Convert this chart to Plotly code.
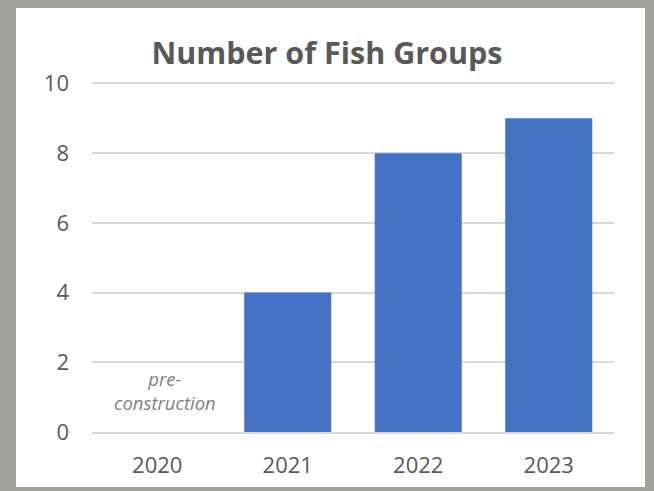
import plotly.graph_objects as go

years = ["2020", "2021", "2022", "2023"]
fish_groups = [0, 4, 8, 9]
y_ticks = [0, 2, 4, 6, 8, 10]
note_text = "pre-<br>construction"

text_color = "#595959"
font_family = "Open Sans"

fig = go.Figure()
fig.add_trace(go.Bar(
    x=years, y=fish_groups,
    marker=dict(color="#4472c4", line=dict(width=0)),
    hoverinfo="x+y",
))

# white card behind the chart (plot area spans y 80..432 px, x 92..614 px)
fig.add_shape(type="rect", xref="paper", yref="paper",
              x0=-0.1456, x1=1.0594, y0=-55 / 352, y1=424 / 352,
              fillcolor="white", line=dict(width=0), layer="below")

fig.add_annotation(x=0, y=1.2, xref="x", yref="y", xshift=8,
                   text="<i>" + note_text.replace("<br>", "</i><br><i>") + "</i>",
                   showarrow=False,
                   font=dict(family=font_family, size=18.5, color="#7f7f7f"),
                   align="center")

fig.update_layout(
    width=654, height=491,
    margin=dict(l=92, r=40, t=80, b=59, autoexpand=False),
    paper_bgcolor="#a3a39d",
    plot_bgcolor="rgba(0,0,0,0)",
    bargap=0.333,
    showlegend=False,
    title=dict(text="<b>Number of Fish Groups</b>", x=0.5, xanchor="center",
               y=1 - 53 / 491, yanchor="middle",
               font=dict(family=font_family, size=30.5, color=text_color)),
    font=dict(family=font_family, color=text_color),
)
fig.update_xaxes(type="category", range=[-0.5, 3.5], showgrid=False, showline=True,
                 linecolor="#d9d9d9", linewidth=2, ticks="", automargin=False,
                 tickfont=dict(size=22, color=text_color), ticklabelstandoff=13)
fig.update_yaxes(range=[0, 10.1], tickvals=y_ticks, showgrid=True, gridcolor="#d9d9d9",
                 gridwidth=1.5, zeroline=False, showline=False, ticks="", automargin=False,
                 tickfont=dict(size=22, color=text_color), ticklabelstandoff=22)

fig.write_html("out.html", config={"displayModeBar": False},
               post_script="document.body.style.margin='0';")
